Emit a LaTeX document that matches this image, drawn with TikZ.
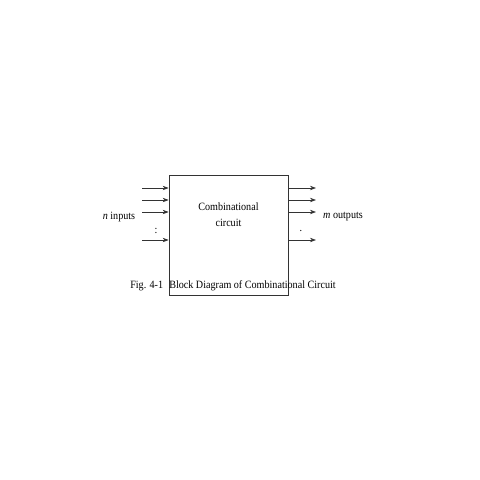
\documentclass[tikz,border=0pt]{standalone}
\usepackage{fontspec}
\setmainfont{Liberation Serif}
\usetikzlibrary{positioning}
\usetikzlibrary{arrows.meta}

\begin{document}
\begin{tikzpicture}[x=0.025cm,y=-0.025cm,
	line/.style={draw=black!80,line width=0.5pt},
	signal/.style={line,-{Stealth[length=1.5mm,width=1.1mm]}},
	txt/.style={font=\fontsize{7.2}{10}\selectfont,inner sep=0pt,yscale=1.1}]
		\useasboundingbox (0,0) rectangle (480,480);
		\node[line,minimum width=2.975cm,minimum height=3cm,inner sep=0pt] (circuit) at (228.5,235) {};
		\node[txt,align=center] (name) at (228.5,214.5) {Combinational\\circuit};
		% inputs
		\coordinate (in1) at (142,188);
		\coordinate (in2) at (142,200);
		\coordinate (in3) at (142,212);
		\coordinate (in4) at (142,240);
		\draw[signal] (in1) -- (in1 -| circuit.west);
		\draw[signal] (in2) -- (in2 -| circuit.west);
		\draw[signal] (in3) -- (in3 -| circuit.west);
		\draw[signal] (in4) -- (in4 -| circuit.west);
		% outputs
		\coordinate (out1) at (316,188);
		\coordinate (out2) at (316,200);
		\coordinate (out3) at (316,212);
		\coordinate (out4) at (316,240);
		\draw[signal] (out1 -| circuit.east) -- (out1);
		\draw[signal] (out2 -| circuit.east) -- (out2);
		\draw[signal] (out3 -| circuit.east) -- (out3);
		\draw[signal] (out4 -| circuit.east) -- (out4);
		\node[txt] (indots) at (156,231) {:};
		\node[txt] (outdots) at (301,231) {.};
		\node[txt] (inputs) at (119,217) {\textit{n} inputs};
		\node[txt] (outputs) at (343,217) {\textit{m} outputs};
		\node[txt] (caption) at (233,285.5) {Fig. 4-1\hspace{0.6em}Block Diagram of Combinational Circuit};
	\end{tikzpicture}
\end{document}
